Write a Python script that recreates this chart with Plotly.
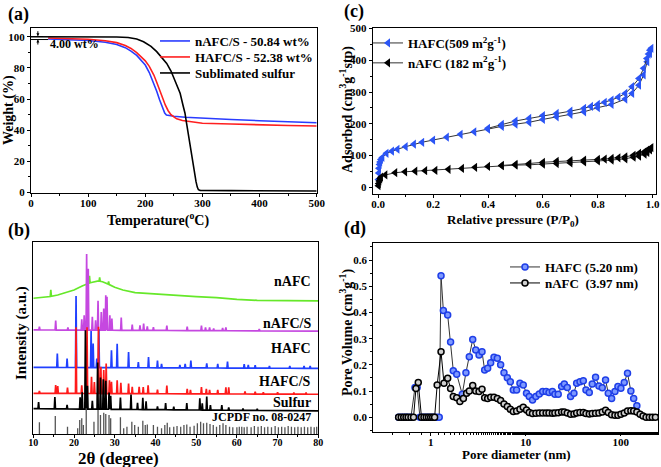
import numpy as np
import plotly.graph_objects as go

W, H = 661, 467
SERIF = "Liberation Serif, Times New Roman, serif"

# ---------------- (a) TGA ----------------
sulfur_T = [0, 50, 100, 150, 170, 185, 197, 210, 220, 230, 237.5, 245, 249, 255, 261, 266,
            269.5, 272, 275, 279, 283, 286, 288.8, 291, 293, 296, 300, 350, 400, 450, 500]
sulfur_W = [100, 100, 100, 99.8, 99.5, 98.5, 96.8, 93.8, 90.4, 86.5, 82.9, 78, 74.4, 69, 63.7, 56,
            50.9, 45, 38, 29, 21, 12, 7, 3.5, 1.8, 1.4, 1.3, 1.2, 1.1, 1.0, 1.0]
nafcs_T = [30, 50, 100, 130, 150, 165, 175, 185, 195, 200, 207, 215, 220, 225, 230, 234, 237,
           242, 250, 270, 300, 350, 400, 450, 500]
nafcs_W = [98.5, 98.3, 97.6, 96.5, 95, 93, 90.8, 88, 84.3, 81.8, 77, 70, 65, 59.5, 54.5, 51, 49.8,
           49.4, 49, 48.3, 47.6, 46.9, 46.1, 45.4, 44.8]
hafcs_T = [30, 50, 100, 130, 150, 165, 175, 185, 195, 200, 207, 215, 220, 225, 230, 235, 240,
           245, 250, 255, 265, 280, 300, 350, 400, 450, 500]
hafcs_W = [99.2, 99, 98.4, 97.4, 96.2, 94.3, 92.5, 89.8, 86.5, 84.5, 81, 75.4, 70.8, 65.8, 60.5,
           56.2, 52.5, 50, 48.5, 47.3, 46.2, 45.3, 44.5, 44, 43.4, 43, 42.7]
tga_names = ["nAFC/S - 50.84 wt%", "HAFC/S - 52.38 wt%", "Sublimated sulfur"]

# ---------------- (b) XRD ----------------
# baselines (2theta, offset intensity) and peaks (position, height above baseline)
nafc_bx = [10, 12, 14, 16, 18, 20, 22, 24, 26, 27, 28, 30, 32, 35, 40, 45, 50, 55, 60, 65, 70, 75, 80]
nafc_by = [70.7, 71, 71.5, 72.4, 73.6, 75, 77.1, 78.8, 79.7, 79.3, 78.5, 76.4, 75, 73.6, 72.9, 72.0,
           71.5, 71.0, 70.1, 69.6, 69.4, 69.3, 69.3]
nafc_px = [14.3, 23.8, 26.3, 28.5]
nafc_ph = [3.5, 3.8, 2.0, 1.5]

nafcs_bx = [10, 80]
nafcs_by = [54.2, 53.6]
nafcs_px = [11.5, 15.5, 18.5, 21.9, 22.5, 23.1, 23.5, 24.5, 25.3, 25.9, 26.7, 27.3, 27.8, 28.1, 28.8,
            29.3, 31.6, 34.3, 36.2, 37.1, 38.0, 39.5, 42.8, 47.8, 51.3, 52.3, 53.3, 54.3, 56.5, 57.3, 65.5]
nafcs_ph = [1.7, 4.9, 1.4, 5.6, 7.8, 39.6, 32, 7, 5.2, 15.3, 9.5, 11.3, 18.2, 17.4, 7.8,
            6.1, 6.6, 3, 2.6, 3.5, 2.1, 1.7, 2.6, 2.1, 2.6, 1.7, 1.7, 1.2, 1.4, 1.7, 0.9]

hafc_bx = [10, 80]
hafc_by = [34.7, 34.2]
hafc_px = [15.9, 18.3, 20.5, 24.2, 24.7, 25.6, 26.1, 29.2, 30.6, 33.4, 35.8, 38.3, 40.5, 41.5, 46.0,
           47.3, 48.7, 52.6, 55.3, 57.7, 61.8, 62.8, 64.5, 68.0, 73.0, 76.5, 78.0]
hafc_ph = [7.3, 4.7, 37.2, 19.1, 12.5, 4.7, 20, 9, 12.5, 8.2, 3, 5.6, 3.8, 2.1, 1.6,
           2.1, 3.8, 2.4, 2.1, 3.3, 2.1, 1.6, 1.6, 1.2, 1.2, 1.2, 1.2]

hafcs_bx = [10, 80]
hafcs_by = [21.2, 20.7]
hafcs_px = [11.5, 15.5, 16.0, 18.4, 20.5, 21.9, 23.2, 24.3, 25.0, 26.0, 26.6, 27.3, 27.9, 28.7, 29.2,
            30.6, 31.5, 33.4, 34.3, 36.0, 37.0, 38.2, 40.5, 42.8, 47.8, 48.6, 51.3, 52.5, 53.3, 55.3,
            57.3, 58.0, 62.0, 64.5, 66.5, 70.0, 74.0, 77.0]
hafcs_ph = [1.2, 4.3, 3.8, 3.1, 34.5, 4.3, 34.5, 8.7, 6, 34.8, 13.9, 12.2, 15.6, 6.9, 6.1,
            6.9, 5.6, 5.2, 3.5, 3.5, 3.5, 4.3, 2.1, 4.3, 2.6, 2.1, 3.5, 2.6, 2.1, 2.1,
            3.5, 3.5, 1.4, 1.2, 0.9, 0.9, 0.9, 0.9]

sulf_bx = [10, 80]
sulf_by = [13.2, 12.0]
sulf_px = [11.3, 15.3, 18.3, 21.5, 22.0, 22.8, 23.3, 24.5, 25.8, 26.5, 27.2, 27.8, 28.6, 29.0, 31.4,
           34.0, 35.6, 36.9, 37.7, 40.5, 42.5, 44.5, 47.7, 50.9, 51.5, 52.6, 53.5, 56.3, 58.0, 61.5, 65.0]
sulf_ph = [3.5, 6.1, 2.1, 6.1, 8.7, 41, 12.2, 4.3, 24.3, 16.5, 15.6, 14.8, 8.7, 7, 6.1,
           7.8, 3.5, 6.1, 4.3, 1.7, 3.5, 1.7, 3.5, 6.1, 3.5, 7, 2.6, 2.6, 1.4, 0.9, 0.9]

jcpdf_pos = [11.5, 15.4, 18.4, 20.9, 21.4, 21.9, 22.3, 23.0, 24.9, 25.9, 26.5, 27.3, 27.8, 28.6, 29.0,
             31.4, 32.2, 33.0, 34.2, 34.9, 35.8, 36.9, 37.5, 38.0, 39.5, 40.5, 41.5, 42.3, 42.9, 43.5,
             44.5, 45.3, 46.2, 47.0, 47.7, 48.5, 49.5, 50.3, 51.1, 51.8, 52.6, 53.4, 54.2, 55.0, 55.8,
             56.6, 57.3, 58.2, 59.0, 60.0, 60.6, 61.2, 61.8, 62.5, 63.5, 64.3, 65.2, 66.0, 66.8, 67.6,
             68.5, 69.4, 70.2, 71.0, 71.8, 72.6, 73.4, 74.2, 75.0, 75.8, 76.6, 77.4, 78.2, 79.0, 79.6]
jcpdf_h = [6.1, 9.4, 3.8, 3, 7.3, 8.2, 4.7, 13.4, 6.4, 12.5, 9.9, 11.1, 10.4, 9.9, 8.2,
           8.7, 3, 3.8, 6.4, 4.7, 3.8, 6.9, 4.7, 5, 4.7, 3.8, 3, 4.7, 5.9, 3.5,
           3.8, 4.2, 3.8, 4.7, 5, 3.8, 4.3, 5.6, 6.4, 5.6, 5.9, 5.2, 4.7, 3.8, 4.7,
           5.6, 4.7, 3.8, 3.5, 3.5, 3.8, 3.8, 3.5, 3.8, 3.5, 4.2, 3.8, 4.2, 3.5, 3.8,
           3.5, 4.2, 3.5, 3.8, 3.5, 4.2, 3.8, 3.5, 3.8, 3.5, 3.8, 3.5, 3.8, 3.5, 3.8]

xrd_labels = ["nAFC", "nAFC/S", "HAFC", "HAFC/S", "Sulfur", "JCPDF no. 08-0247"]
xrd_label_y = [79.2, 57.7, 44.3, 27.2, 16.3, 8.8]

# ---------------- (c) N2 isotherms ----------------
hafc_ads_p = [0.001, 0.002, 0.003, 0.005, 0.007, 0.01, 0.015, 0.03, 0.05, 0.07, 0.1, 0.13, 0.16, 0.2,
              0.25, 0.3, 0.35, 0.4, 0.45, 0.5, 0.55, 0.6, 0.65, 0.7, 0.75, 0.8, 0.85, 0.9, 0.925,
              0.95, 0.967, 0.98, 0.99]
hafc_ads_v = [25, 45, 60, 72, 80, 88, 94, 107, 114, 120, 128, 136, 142, 149, 158, 167, 175, 183, 192,
              199, 205, 214, 222, 230, 238, 251, 261, 278, 296, 322, 354, 396, 422]
hafc_des_p = [0.995, 0.99, 0.985, 0.979, 0.967, 0.95, 0.925, 0.9, 0.875, 0.85, 0.825, 0.8, 0.775,
              0.75, 0.7, 0.65, 0.6, 0.55, 0.5, 0.45, 0.4]
hafc_des_v = [438, 432, 420, 406, 375, 343, 317, 296, 284, 275, 268, 261, 255, 249, 240, 233, 226,
              217, 209, 198, 186]
nafc_ads_p = [0.001, 0.002, 0.004, 0.007, 0.01, 0.026, 0.062, 0.098, 0.135, 0.171, 0.208, 0.256,
              0.305, 0.353, 0.4, 0.45, 0.5, 0.55, 0.6, 0.65, 0.7, 0.75, 0.8, 0.85, 0.9, 0.93, 0.95,
              0.97, 0.98, 0.99]
nafc_ads_v = [5, 12, 20, 27, 32, 39, 46, 49, 51, 52.4, 53.4, 56.6, 59.7, 63, 66, 68, 70, 71, 73, 75,
              77, 80, 83, 86, 90, 95, 98, 105, 110, 118]
nafc_des_p = [0.995, 0.99, 0.98, 0.97, 0.95, 0.93, 0.9, 0.875, 0.85, 0.825, 0.8, 0.75, 0.7, 0.65,
              0.6, 0.55, 0.5, 0.45]
nafc_des_v = [125, 121, 117, 112, 107, 101, 96, 93, 91, 89, 88, 86, 84, 82, 79, 75, 72, 69]
iso_names = ["HAFC(509 m<sup>2</sup>g<sup>-1</sup>)", "nAFC (182 m<sup>2</sup>g<sup>-1</sup>)"]

# ---------------- (d) pore size distribution ----------------
hafc_d = [0.46, 0.49, 0.52, 0.55, 0.58, 0.62, 0.684, 0.72, 0.77, 0.82, 0.87, 0.92, 0.97, 1.03, 1.09,
          1.16, 1.23, 1.285, 1.36, 1.51, 1.62, 1.73, 1.88, 2.15, 2.35, 2.55, 2.77, 2.98, 3.23, 3.47,
          3.70, 3.98, 4.28, 4.64, 5.03, 5.45, 5.91, 6.41, 6.89, 7.41, 8.03, 8.7, 9.43, 10.2, 10.9,
          11.8, 12.8, 13.9, 15.1, 16.4, 17.6, 19.1, 20.3, 22.0, 23.9, 25.5, 27.4, 29.7, 32.2, 34.4,
          37.3, 40.4, 43.1, 46.7, 50.2, 54.4, 59.0, 64.0, 69.3, 74.0, 80.3, 87.0, 93.5, 100.5, 109,
          118, 128, 137, 148]
hafc_v = [0, 0, 0, 0, 0, 0, 0.114, 0.114, 0, 0, 0, 0, 0, 0, 0,
          0, 0, 0.54, 0.407, 0.39, 0.287, 0.178, 0.164, 0.088, 0.17, 0.231, 0.297, 0.257, 0.238, 0.25,
          0.18, 0.187, 0.208, 0.229, 0.225, 0.2, 0.17, 0.151, 0.136, 0.104, 0.104, 0.13, 0.123, 0.092, 0.079,
          0.066, 0.079, 0.089, 0.098, 0.098, 0.095, 0.098, 0.088, 0.088, 0.117, 0.127, 0.114, 0.079, 0.092, 0.13,
          0.136, 0.139, 0.104, 0.095, 0.127, 0.153, 0.119, 0.113, 0.142, 0.092, 0.072, 0.098, 0.117, 0.111, 0.133,
          0.168, 0.1, 0.072, 0.044]
nafc_d = [0.46, 0.49, 0.52, 0.55, 0.58, 0.62, 0.66, 0.70, 0.74, 0.80, 0.85, 0.9, 0.95, 1.0, 1.05,
          1.1, 1.17, 1.285, 1.38, 1.51, 1.62, 1.73, 1.88, 2.03, 2.21, 2.39, 2.55, 2.77, 2.98, 3.23,
          3.47, 3.70, 3.98, 4.28, 4.64, 5.03, 5.45, 5.91, 6.41, 6.89, 7.41, 8.03, 8.7, 9.43, 10.2,
          10.9, 11.8, 12.8, 13.9, 15.1, 16.4, 17.6, 19.1, 20.3, 22.0, 23.9, 25.5, 27.4, 29.7, 32.2,
          34.4, 37.3, 40.4, 43.1, 46.7, 50.2, 54.4, 59.0, 64.0, 69.3, 74.0, 80.3, 87.0, 93.5, 100.5,
          109, 118, 128, 137, 148, 160, 172, 185, 200, 215, 232]
nafc_v = [0, 0, 0, 0, 0, 0, 0, 0.11, 0.133, 0, 0, 0, 0, 0, 0,
          0, 0.123, 0.25, 0.13, 0.149, 0.11, 0.079, 0.075, 0.06, 0.072, 0.092, 0.1, 0.121, 0.1, 0.098,
          0.107, 0.075, 0.072, 0.076, 0.076, 0.072, 0.064, 0.051, 0.041, 0.031, 0.022, 0.024, 0.031, 0.038, 0.028,
          0.018, 0.014, 0.015, 0.016, 0.016, 0.016, 0.016, 0.015, 0.016, 0.017, 0.02, 0.02, 0.016, 0.012, 0.013,
          0.016, 0.018, 0.018, 0.014, 0.013, 0.014, 0.015, 0.016, 0.02, 0.027, 0.018, 0.01, 0.008, 0.008, 0.012,
          0.016, 0.024, 0.025, 0.024, 0.02, 0.012, 0.005, 0, 0, 0, 0]
psd_names = ["HAFC (5.20 nm)", "nAFC  (3.97 nm)"]

# ---------------- figure ----------------
fig = go.Figure()

# (a)
tga_colors = ["#2a3cff", "#ff1f1f", "#000000"]
tga_legends = ["legend", "legend2", "legend3"]
for T, Wt, name, col, lg in zip([nafcs_T, hafcs_T, sulfur_T], [nafcs_W, hafcs_W, sulfur_W], tga_names,
                                tga_colors, tga_legends):
    fig.add_trace(go.Scatter(x=T, y=Wt, mode="lines", name=name, line=dict(color=col, width=1.6),
                             xaxis="x", yaxis="y", legend=lg))


def xrd_trace(bx, by, px, ph, w=0.14):
    xs = list(bx)
    for p in px:
        xs += [p - w, p, p + w]
    xs = np.array(sorted(xs))
    ys = np.interp(xs, bx, by)
    for p, h in zip(px, ph):
        ys[np.isclose(xs, p)] += h
    return xs, ys


xrd_sets = [(nafc_bx, nafc_by, nafc_px, nafc_ph, "#66e82a"),
            (nafcs_bx, nafcs_by, nafcs_px, nafcs_ph, "#c548e0"),
            (hafc_bx, hafc_by, hafc_px, hafc_ph, "#2040ff"),
            (hafcs_bx, hafcs_by, hafcs_px, hafcs_ph, "#ff1a1a"),
            (sulf_bx, sulf_by, sulf_px, sulf_ph, "#000000")]
for (bx, by, px_, ph, col), nm in zip(xrd_sets, xrd_labels):
    xs, ys = xrd_trace(bx, by, px_, ph)
    fig.add_trace(go.Scatter(x=xs, y=ys, mode="lines", line=dict(color=col, width=1.7),
                             name=nm, showlegend=False, xaxis="x2", yaxis="y2"))
sx, sy = [], []
for p, h in zip(jcpdf_pos, jcpdf_h):
    sx += [p, p, None]
    sy += [0, h, None]
fig.add_trace(go.Scatter(x=sx, y=sy, mode="lines", line=dict(color="#555555", width=1.3),
                         showlegend=False, xaxis="x2", yaxis="y2"))

# (c)
iso_sets = [(hafc_ads_p, hafc_ads_v, hafc_des_p, hafc_des_v, "#2b55f5", iso_names[0]),
            (nafc_ads_p, nafc_ads_v, nafc_des_p, nafc_des_v, "#000000", iso_names[1])]
for ap, av, dp, dv, col, nm in iso_sets:
    mk = dict(symbol="triangle-left", size=8, color=col, line=dict(width=0))
    fig.add_trace(go.Scatter(x=ap, y=av, mode="lines+markers", name=nm, marker=mk,
                             line=dict(color="#333333", width=1), xaxis="x3", yaxis="y3", legend="legend4"))
    fig.add_trace(go.Scatter(x=dp, y=dv, mode="lines+markers", name=nm, marker=mk, showlegend=False,
                             line=dict(color="#333333", width=1), xaxis="x3", yaxis="y3"))

# (d)
fig.add_trace(go.Scatter(x=hafc_d, y=hafc_v, mode="lines+markers", name=psd_names[0],
                         marker=dict(symbol="circle", size=6, color="#7d98ff", line=dict(color="#1f3fe8", width=1.5)),
                         line=dict(color="#333333", width=1), xaxis="x4", yaxis="y4", legend="legend5"))
fig.add_trace(go.Scatter(x=nafc_d, y=nafc_v, mode="lines+markers", name=psd_names[1],
                         marker=dict(symbol="circle", size=6, color="#d0d0d0", line=dict(color="#000000", width=1.5)),
                         line=dict(color="#000000", width=1), xaxis="x4", yaxis="y4", legend="legend6"))

tickfont = dict(family=SERIF, size=11, color="black", weight="bold")
axbase = dict(showline=True, mirror=True, linecolor="black", linewidth=1, showgrid=False, zeroline=False,
              ticks="outside", ticklen=3, tickcolor="black", tickfont=tickfont, automargin=False)
xbase = dict(axbase, ticklabelstandoff=-3)
minor = dict(ticks="outside", ticklen=2, tickcolor="black", showgrid=False)


def fx(p):
    return p / W


def fy(p):
    return 1 - p / H


LEGFONT = dict(family=SERIF, size=13, color="black", weight="bold")


def leg(xpx, ypx):
    return dict(x=fx(xpx), y=fy(ypx), xanchor="left", yanchor="middle", bgcolor="rgba(0,0,0,0)", font=LEGFONT)


fig.update_layout(
    width=W, height=H, margin=dict(l=0, r=0, t=0, b=0, pad=0, autoexpand=False),
    paper_bgcolor="white", plot_bgcolor="white",
    font=dict(family=SERIF, color="black", weight="bold"),
    xaxis=dict(xbase, domain=[fx(31), fx(316.7)], range=[0, 500], dtick=100, anchor="y", minor=dict(minor, dtick=50)),
    yaxis=dict(axbase, domain=[fy(193), fy(28)], range=[-0.3, 105.6], dtick=20, tick0=0, anchor="x",
               minor=dict(minor, dtick=10)),
    xaxis2=dict(xbase, domain=[fx(33.3), fx(318.3)], range=[10, 80], dtick=10, anchor="y2", ticklabelstandoff=-4,
                tickfont=dict(tickfont, size=10), minor=dict(minor, dtick=5)),
    yaxis2=dict(axbase, domain=[fy(434), fy(242)], range=[0, 100], ticks="", showticklabels=False, anchor="x2"),
    xaxis3=dict(xbase, domain=[fx(372.7), fx(656)], range=[-0.02, 1.012], dtick=0.2, tick0=0, tickformat=".1f",
                anchor="y3", minor=dict(minor, dtick=0.1)),
    yaxis3=dict(axbase, domain=[fy(194), fy(28)], range=[-21, 502], dtick=100, tick0=0, anchor="x3",
                minor=dict(minor, dtick=50)),
    xaxis4=dict(xbase, type="log", domain=[fx(373.3), fx(658.3)], range=[-0.604, 2.396],
                tickvals=[1, 10, 100], ticktext=["1", "10", "100"], anchor="y4", minor=dict(minor)),
    yaxis4=dict(axbase, domain=[fy(431.7), fy(243)], range=[-0.055, 0.665], dtick=0.1, tick0=0, tickformat=".1f",
                anchor="x4", minor=dict(minor, dtick=0.05)),
    legend=leg(155, 41),
    legend2=leg(155, 57),
    legend3=leg(155, 73),
    legend4=dict(leg(368, 53), tracegroupgap=0),
    legend5=leg(505, 267),
    legend6=leg(505, 283),
)

ann = []


def txt(x, y, s, size, xanchor="center", yanchor="middle", angle=0, xref="paper", yref="paper"):
    ann.append(dict(x=x, y=y, text=s, showarrow=False, xref=xref, yref=yref, xanchor=xanchor, yanchor=yanchor,
                    textangle=angle, font=dict(family=SERIF, size=size, color="black", weight="bold")))


# panel labels
txt(fx(6), fy(14), "(a)", 18, xanchor="left")
txt(fx(6), fy(231), "(b)", 18, xanchor="left")
txt(fx(342), fy(12), "(c)", 18, xanchor="left")
txt(fx(342), fy(229), "(d)", 18, xanchor="left")
# axis titles
txt(fx(9), fy(110), "Weight (%)", 14, angle=-90)
txt(fx(158), fy(219), "Temperature(<sup>o</sup>C)", 14)
txt(fx(21), fy(333), "Intensity (a.u.)", 15, angle=-90)
txt(fx(118), fy(458.5), "2\u03b8 (degree)", 17)
txt(fx(346), fy(110), "Adsorbed (cm<sup>3</sup>g<sup>-1</sup>stp)", 14, angle=-90)
txt(fx(513), fy(220), "Relative pressure (P/P<sub>0</sub>)", 13)
txt(fx(346), fy(333), "Pore Volume (cm<sup>3</sup>g<sup>-1</sup>)", 14, angle=-90)
txt(fx(516), fy(454), "Pore diameter (nm)", 13)
# XRD curve labels
for lab, yv in zip(xrd_labels, xrd_label_y):
    txt(78.8, yv, lab, 12 if lab.startswith("JCPDF") else 14, xanchor="right", xref="x2", yref="y2")
# TGA 4.00 wt% note
txt(30, 95.5, "4.00 wt%", 12, xanchor="left", xref="x", yref="y")
ann.append(dict(x=12, y=100.3, ax=12, ay=104.5, xref="x", yref="y", axref="x", ayref="y", showarrow=True,
                arrowhead=2, arrowsize=0.6, arrowwidth=1, arrowcolor="black", text=""))
ann.append(dict(x=12, y=98.2, ax=12, ay=94, xref="x", yref="y", axref="x", ayref="y", showarrow=True,
                arrowhead=2, arrowsize=0.6, arrowwidth=1, arrowcolor="black", text=""))
fig.update_layout(annotations=ann)
fig.add_shape(type="line", x0=0, x1=30, y0=98.2, y1=98.2, xref="x", yref="y", line=dict(color="black", width=1))

fig.write_html("out.html", config={"displayModeBar": False},
               post_script="document.body.style.margin='0px';document.body.style.overflow='hidden';")
